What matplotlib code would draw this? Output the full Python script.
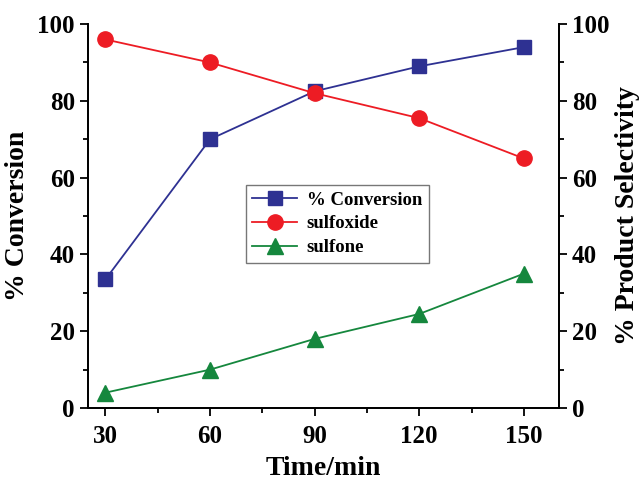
import matplotlib
matplotlib.use('Agg')
import matplotlib.pyplot as plt
from matplotlib.ticker import MultipleLocator

# reaction time (min) and results
time_min = [30, 60, 90, 120, 150]
conversion = [33.5, 70.0, 82.5, 89.0, 94.0]
sulfoxide = [96.0, 90.0, 82.0, 75.5, 65.0]
sulfone = [4.0, 10.0, 18.0, 24.5, 35.0]

x_ticks = [30, 60, 90, 120, 150]
y_ticks = [0, 20, 40, 60, 80, 100]

blue = '#2e3192'
red = '#ed1c24'
green = '#15873d'

plt.rcParams['font.family'] = 'Liberation Serif'
plt.rcParams['font.weight'] = 'bold'

fig = plt.figure(figsize=(6.4, 4.82), dpi=100)
ax = fig.add_axes([0.1375, 0.1535, 0.7355, 0.7965])
ax2 = ax.twinx()

l1, = ax.plot(time_min, conversion, color=blue, lw=1.3, marker='s', ms=10,
              label='% Conversion')
l2, = ax.plot(time_min, sulfoxide, color=red, lw=1.3, marker='o', ms=11,
              label='sulfoxide')
l3, = ax.plot(time_min, sulfone, color=green, lw=1.3, marker='^', ms=11.5,
              label='sulfone')

for a in (ax, ax2):
	a.set_xlim(25, 160)
	a.set_ylim(0, 100)
	a.set_yticks(y_ticks)
	a.yaxis.set_minor_locator(MultipleLocator(10))
	a.spines['top'].set_visible(False)
	for s in ('left', 'right', 'bottom'):
		a.spines[s].set_linewidth(1.3)
	a.tick_params(which='major', direction='out', length=6, width=1.3, labelsize=18)
	a.tick_params(which='minor', direction='out', length=3.5, width=1.3)

ax.set_xticks(x_ticks)
ax.xaxis.set_minor_locator(MultipleLocator(15))
ax.tick_params(axis='x', pad=6)

ax.set_xlabel('Time/min', fontsize=20, fontweight='bold', labelpad=6)
ax.set_ylabel('% Conversion', fontsize=20, fontweight='bold', labelpad=5)
ax2.set_ylabel('% Product Selectivity', fontsize=20, fontweight='bold', labelpad=4)

leg = ax.legend(handles=[l1, l2, l3], loc='upper left',
                bbox_to_anchor=(0.384, 0.616), bbox_transform=fig.transFigure,
                frameon=True, fancybox=False, edgecolor='#555555',
                handlelength=2.4, handletextpad=0.5, borderpad=0.35,
                labelspacing=0.35, borderaxespad=0,
                prop={'weight': 'bold', 'size': 13.5})
leg.get_frame().set_linewidth(1.0)

fig.savefig('out.png', dpi=100)
